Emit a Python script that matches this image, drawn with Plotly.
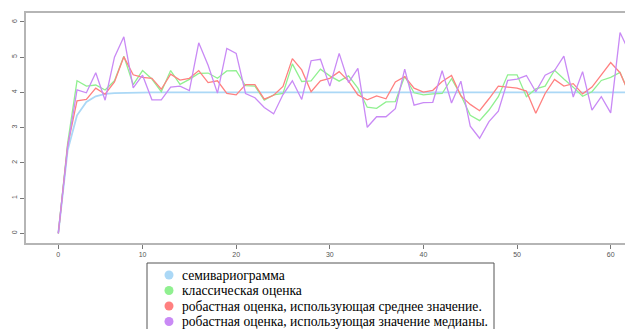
import plotly.graph_objects as go

lags = list(range(1, 63))
tick_pos = [1, 10, 20, 30, 40, 50, 60]
tick_text = ["0", "10", "20", "30", "40", "50", "60"]
y_ticks = [0, 1, 2, 3, 4, 5, 6]

semivariogram = [0, 2.36, 3.35, 3.73, 3.89, 3.96, 3.98, 3.99, 4.0, 4.0,
                 4.0, 4.0, 4.0, 4.0, 4.0, 4.0, 4.0, 4.0, 4.0, 4.0,
                 4.0, 4.0, 4.0, 4.0, 4.0, 4.0, 4.0, 4.0, 4.0, 4.0,
                 4.0, 4.0, 4.0, 4.0, 4.0, 4.0, 4.0, 4.0, 4.0, 4.0,
                 4.0, 4.0, 4.0, 4.0, 4.0, 4.0, 4.0, 4.0, 4.0, 4.0,
                 4.0, 4.0, 4.0, 4.0, 4.0, 4.0, 4.0, 4.0, 4.0, 4.0,
                 4.0, 4.0]
classical = [0, 2.56, 4.33, 4.18, 4.21, 4.07, 4.33, 5.03, 4.22, 4.62,
             4.38, 4.02, 4.62, 4.23, 4.37, 4.54, 4.55, 4.40, 4.61, 4.62,
             4.19, 4.18, 3.78, 3.93, 3.97, 4.81, 4.31, 4.33, 4.66, 4.47,
             4.32, 4.47, 4.12, 3.58, 3.55, 3.73, 3.74, 4.46, 3.99, 3.93,
             3.96, 3.97, 4.39, 3.92, 3.35, 3.20, 3.50, 3.88, 4.50, 4.50,
             3.88, 4.10, 4.18, 4.63, 4.38, 4.15, 3.89, 4.02, 4.34, 4.43,
             4.57, 3.95]
robust_mean = [0, 2.50, 3.76, 3.80, 4.12, 3.95, 4.30, 5.01, 4.50, 4.43,
               4.40, 4.09, 4.52, 4.35, 4.40, 4.62, 4.28, 4.33, 3.97, 3.93,
               4.22, 4.22, 3.81, 3.92, 4.17, 4.96, 4.64, 4.02, 4.33, 4.40,
               4.59, 4.32, 3.93, 3.79, 3.90, 3.82, 4.30, 4.45, 4.12, 4.01,
               4.06, 4.31, 4.48, 3.90, 3.66, 3.48, 3.82, 4.18, 4.15, 4.12,
               4.04, 3.41, 3.97, 4.37, 4.18, 4.25, 3.96, 4.15, 4.50, 4.85,
               4.56, 3.95]
robust_median = [0, 2.45, 4.07, 3.99, 4.56, 3.78, 5.00, 5.58, 4.13, 4.49,
                 3.79, 3.79, 4.15, 4.18, 4.05, 5.41, 4.77, 3.98, 5.25, 5.11,
                 3.97, 3.85, 3.57, 3.39, 3.94, 4.33, 3.80, 4.90, 4.94, 4.18,
                 5.11, 4.28, 4.68, 3.01, 3.31, 3.31, 3.54, 4.66, 3.64, 3.71,
                 3.72, 4.62, 3.70, 4.32, 3.04, 2.70, 3.17, 3.47, 4.34, 4.38,
                 4.48, 4.02, 4.49, 4.62, 5.03, 3.87, 4.59, 3.50, 3.88, 3.42,
                 5.70, 5.14]

names = ["семивариограмма", "классическая оценка",
         "робастная оценка, использующая среднее значение.",
         "робастная оценка, использующая значение медианы."]
colors = ["#abd8f6", "#90f090", "#ff8080", "#c98af5"]
series = [semivariogram, classical, robust_mean, robust_median]
widths = [1.8, 1.3, 1.3, 1.3]

W, H = 625, 329
ML, MR, MT, MB = 26, 0, 13, 86
PW, PH = W - ML - MR, H - MT - MB

fig = go.Figure()
for vals, c, w, n in zip(series, colors, widths, names):
    fig.add_trace(go.Scatter(x=lags, y=vals, mode="lines", name=n,
                             line=dict(color=c, width=w), showlegend=False))

def px_x(X):
    return (X - ML) / PW

def px_y(Y):
    return (H - MB - Y) / PH

serif = "Liberation Serif, DejaVu Serif, Times New Roman, serif"
shapes = [dict(type="rect", xref="paper", yref="paper",
               x0=px_x(147), x1=px_x(494), y0=px_y(345), y1=px_y(263),
               line=dict(color="#555555", width=1), fillcolor="white", layer="above")]
annotations = []
rows = [275, 290.5, 306, 321.5]
for Y, c, n in zip(rows, colors, names):
    shapes.append(dict(type="circle", xref="paper", yref="paper",
                       xsizemode="pixel", ysizemode="pixel",
                       xanchor=px_x(169), yanchor=px_y(Y),
                       x0=-4.5, x1=4.5, y0=-4.5, y1=4.5,
                       fillcolor=c, line=dict(width=0), layer="above"))
    annotations.append(dict(xref="paper", yref="paper", x=px_x(180), y=px_y(Y),
                            xanchor="left", yanchor="middle", showarrow=False,
                            text=n, font=dict(family=serif, size=13.6, color="black")))

fig.update_layout(
    width=W, height=H,
    margin=dict(l=ML, r=MR, t=MT, b=MB, pad=0),
    paper_bgcolor="white", plot_bgcolor="white",
    shapes=shapes, annotations=annotations,
    font=dict(family="Liberation Sans", size=7, color="#555555"),
    xaxis=dict(range=[-2.45, 61.53], tickmode="array", tickvals=tick_pos, ticktext=tick_text,
               showgrid=False, zeroline=False, showline=True, mirror=True,
               linecolor="#b5b5b5", linewidth=1.5, ticks="outside", ticklen=4,
               tickcolor="#777777", tickwidth=1),
    yaxis=dict(range=[-0.275, 6.255], tickmode="array", tickvals=y_ticks,
               showgrid=False, zeroline=False, showline=True,
               linecolor="#b5b5b5", linewidth=1.5, ticks="outside", ticklen=4,
               tickcolor="#777777", tickwidth=1, tickangle=-90),
)
fig.write_html("out.html", config={"displayModeBar": False},
               post_script="document.body.style.margin='0px';document.body.style.overflow='hidden';")
